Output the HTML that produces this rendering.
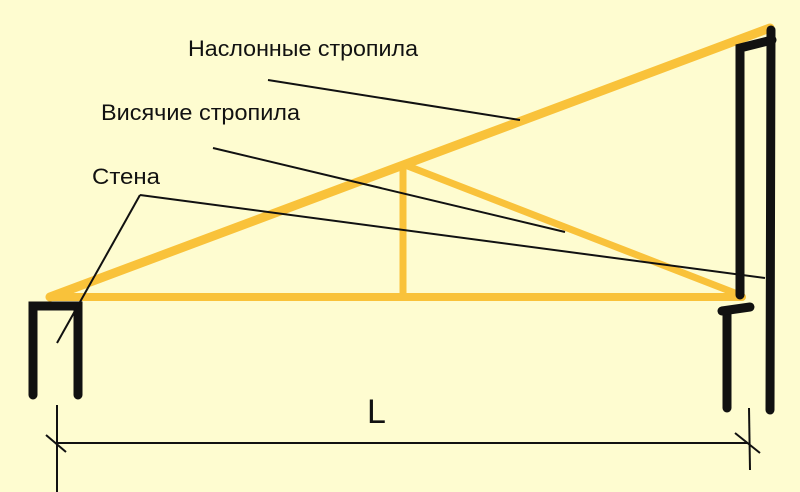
<!DOCTYPE html>
<html><head><meta charset="utf-8"><style>
html,body{margin:0;padding:0;background:#fefcd0;}
svg{display:block;}
text{font-family:"Liberation Sans",sans-serif;fill:#111;}
</style></head><body>
<svg width="800" height="492" viewBox="0 0 800 492">
<rect width="800" height="492" fill="#fefcd0"/>
<g stroke="#f9c23a" stroke-linecap="round" fill="none">
<line x1="50" y1="297" x2="770" y2="28" stroke-width="9"/>
<line x1="50" y1="297" x2="742" y2="297" stroke-width="8"/>
<line x1="403" y1="165" x2="403" y2="295" stroke-width="7"/>
<line x1="405" y1="165" x2="740" y2="295" stroke-width="7"/>
</g>
<g stroke="#111" stroke-linecap="round" fill="none" stroke-width="9">
<polyline points="33,395 33,306 78,306 78,395"/>
<polyline points="740,295 740,48 772,40"/>
<line x1="771" y1="30" x2="770" y2="410"/>
<line x1="727" y1="408" x2="727" y2="312"/>
<line x1="722" y1="311" x2="750" y2="307"/>
</g>
<g stroke="#111" stroke-width="2" fill="none">
<line x1="268" y1="80" x2="520" y2="120"/>
<line x1="213" y1="148" x2="565" y2="232"/>
<line x1="140" y1="195" x2="57" y2="343"/>
<line x1="140" y1="195" x2="765" y2="278"/>
<line x1="57" y1="405" x2="57" y2="492"/>
<line x1="749" y1="408" x2="750" y2="470"/>
<line x1="57" y1="443" x2="748" y2="443"/>
<line x1="46" y1="435" x2="66" y2="452"/>
<line x1="735" y1="433" x2="760" y2="453"/>
</g>
<text x="188" y="56" font-size="22" textLength="230" lengthAdjust="spacingAndGlyphs">Наслонные стропила</text>
<text x="101" y="120" font-size="22" textLength="199" lengthAdjust="spacingAndGlyphs">Висячие стропила</text>
<text x="92" y="184" font-size="22" textLength="68" lengthAdjust="spacingAndGlyphs">Стена</text>
<text x="367" y="423" font-size="34">L</text>
</svg>
</body></html>
